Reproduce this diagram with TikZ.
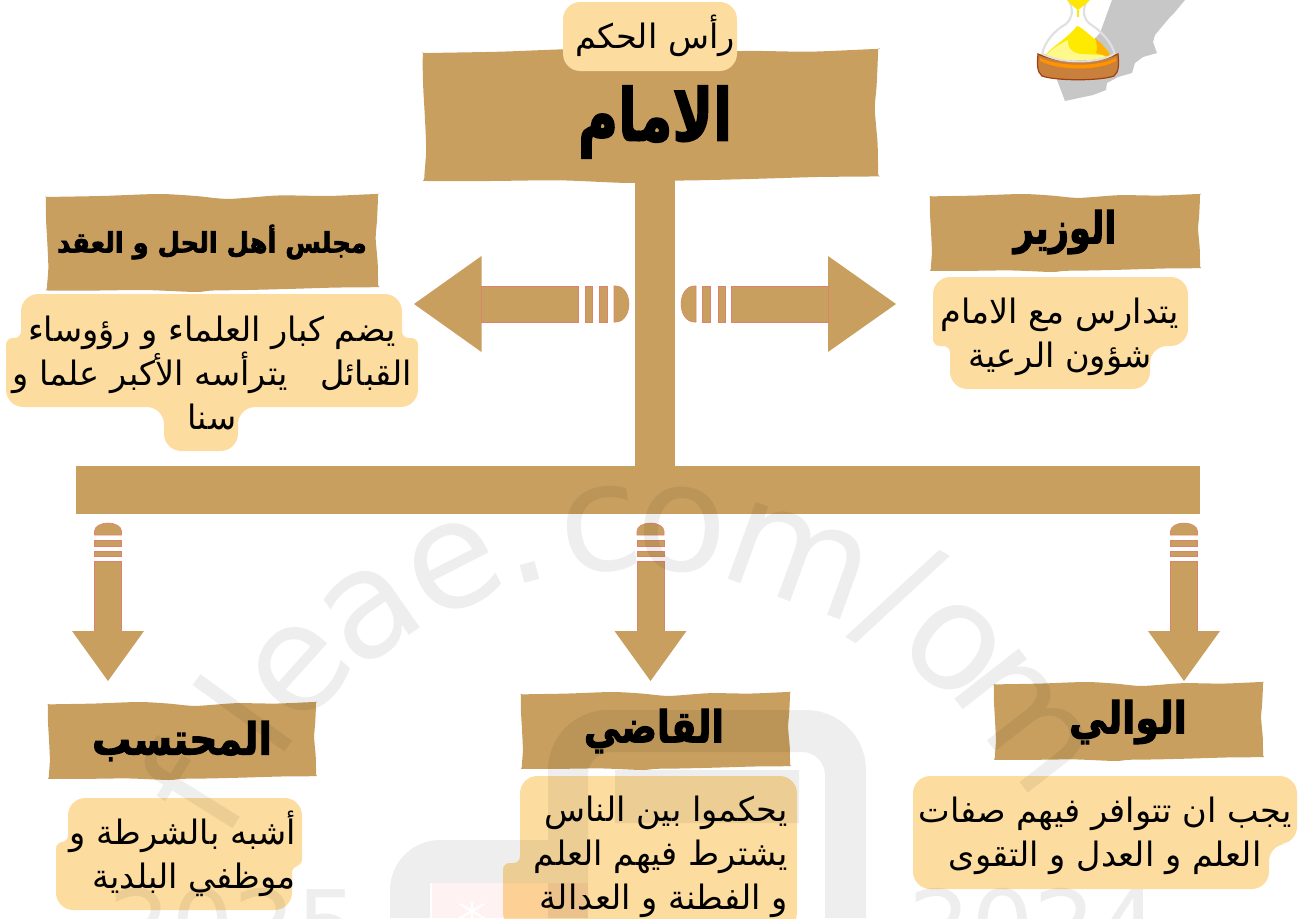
\documentclass[tikz,border=0pt]{standalone}
\usepackage{fontspec}
\TeXXeTstate=1
\newfontfamily\bodyfont[Script=Arabic]{DejaVu Sans}
\newfontfamily\headfont[Script=Arabic,FakeBold=2.5]{DejaVu Sans Bold}
\newfontfamily\wmfont{DejaVu Sans}
\definecolor{tan}{HTML}{C99F5F}
\definecolor{pill}{HTML}{FDDC9F}
\definecolor{edge}{HTML}{DE8270}
\definecolor{mapgray}{HTML}{C7C7C7}
\definecolor{basefill}{HTML}{C8803C}
\definecolor{basedark}{HTML}{A0400F}
\tikzset{
  wm/.style={inner sep=0pt,text=black,font=\wmfont\fontsize{112}{112}\selectfont},
  head/.style={inner sep=0pt,text=black},
  body/.style={inner sep=0pt,text=black,font=\bodyfont\fontsize{25.2}{33}\selectfont},
  pillfill/.style={fill=pill},
  shaft/.style={fill=tan,draw=edge,line width=.4pt},
  rb/.style={rounded corners=13pt},
  rs/.style={rounded corners=5pt},
}
\newcommand{\banner}[4]{%
 \begin{scope}[shift={(#1,#2)},x=#3*0.75pt,y=#4*-0.75pt]
 \fill[tan] plot[smooth cycle,tension=.45] coordinates {
 (0,.035)(.01,.03)(.17,.02)(.34,0)(.45,.02)(.55,.05)(.7,.015)(.85,.02)(.995,0)(1,.01)
 (.997,.27)(.993,.45)(.999,.7)(1,.93)(.997,.95)
 (.87,.955)(.72,.97)(.6,.98)(.5,.985)(.45,1)(.3,.98)(.15,.985)(.01,.985)(.003,.96)
 (.007,.75)(.004,.5)(0,.25)};
 \end{scope}}
\newcommand{\dnarrow}[1]{%
 \begin{scope}[shift={(#1,0)}]
 \fill[shaft] (-13.5,535) -- (-13.5,531) arc[start angle=180,end angle=360,x radius=13.5,y radius=8] -- (13.5,535) -- cycle;
 \fill[shaft] (-13.5,540) rectangle (13.5,546);
 \fill[shaft] (-13.5,551) rectangle (13.5,556);
 \fill[shaft] (-13.5,631) -- (-13.5,561) -- (13.5,561) -- (13.5,631) -- cycle;
 \fill[tan] (-36,631) -- (36,631) -- (0,681) -- cycle;
 \end{scope}}
\begin{document}
\begin{tikzpicture}[x=.75pt,y=-.75pt]
\useasboundingbox (0,0) rectangle (1307,918);
\clip (0,0) rectangle (1307,918);
% map and hourglass
\fill[mapgray] (1112,0) -- (1185,0) -- (1175,12) -- (1170,17) -- (1165,23) -- (1155,35) -- (1153,42) -- (1157,53) -- (1143,57) -- (1135,63) -- (1132,73) -- (1118,77) -- (1107,83) -- (1106,90) -- (1093,95) -- (1065,101) -- (1057,80) -- (1100,33) -- cycle;
\draw[line width=1.6pt,draw=black!12] (1069,0) .. controls (1074,12) and (1072,18) .. (1066,24) .. controls (1055,30) and (1044,42) .. (1042,55);
\draw[line width=1.6pt,draw=black!12] (1087,0) .. controls (1082,12) and (1083,18) .. (1090,24) .. controls (1100,30) and (1112,42) .. (1115,55);
\fill[yellow!90!orange] (1067,0) -- (1090,0) .. controls (1086,4) and (1082,7) .. (1078,10) .. controls (1074,7) and (1070,4) .. (1067,0) -- cycle;
\fill[yellow!90!orange] (1077,10) rectangle (1079,17);
\fill[yellow!92!orange] (1077,26) .. controls (1082,27) and (1090,36) .. (1100,43) .. controls (1106,48) and (1110,54) .. (1111,58) -- (1045,56) .. controls (1052,46) and (1068,38) .. (1077,26) -- cycle;
\fill[yellow!45] (1068,40) .. controls (1067,46) and (1070,52) .. (1080,54) -- (1103,55) -- (1108,60) -- (1060,61) -- (1046,56) .. controls (1050,50) and (1060,44) .. (1068,40) -- cycle;
\fill[orange!60!yellow] (1095,38) .. controls (1102,44) and (1108,50) .. (1112,58) -- (1096,53) .. controls (1098,48) and (1097,44) .. (1095,38) -- cycle;
\filldraw[fill=basefill,draw=basedark,line width=.9pt] (1038,54) .. controls (1060,64) and (1096,64) .. (1118,54) .. controls (1119,64) and (1119,72) .. (1114,76) .. controls (1100,81) and (1056,81) .. (1042,76) .. controls (1037,72) and (1037,64) .. (1038,54) -- cycle;
\fill[orange!85!yellow] (1040,58) .. controls (1060,67) and (1098,67) .. (1116,58) -- (1116,61) .. controls (1098,71) and (1060,71) .. (1040,61) -- cycle;
\draw[line width=1.4pt,draw=black!12] (1043,54) .. controls (1060,64) and (1098,64) .. (1114,54);
% rules
\fill[tan] (635,176) rectangle (675,466);
\fill[tan] (76,466) rectangle (1200,514);
% banners
\banner{423}{49}{455}{134}
\banner{46}{194}{332}{98}
\banner{930}{194}{270}{78}
\banner{48}{702}{268}{78}
\banner{521}{692}{269}{78}
\banner{994}{682}{269}{79}
% pills
\fill[pillfill,rb] (563,2) rectangle (737,71);
\fill[pillfill,rb] (21,294) -- (402,294) [rs] -- (402,338) -- (418,338) [rb] -- (418,407) -- (238,407) -- (238,451) -- (164,451) -- (164,407) -- (6,407) [rs] -- (6,338) -- (21,338) [rb] -- cycle;
\fill[pillfill,rb] (933,277) -- (1188,277) -- (1188,346) -- (1150,346) -- (1150,389) -- (950,389) [rs] -- (950,346) -- (933,346) [rb] -- cycle;
\fill[pillfill,rb] (68,798) -- (302,798) [rs] -- (302,866) -- (292,866) [rb] -- (292,910) -- (56,910) [rs] -- (56,842) -- (68,842) [rb] -- cycle;
\fill[pillfill,rb] (520,776) -- (797,776) -- (797,930) -- (503,930) [rs] -- (503,863) -- (520,863) [rb] -- cycle;
\fill[pillfill,rb] (913,776) -- (1297,776) -- (1297,844) -- (1269,844) -- (1269,889) -- (913,889) -- cycle;
% horizontal arrows
\fill[tan] (414,304) -- (481.5,256) -- (481.5,352) -- cycle;
\fill[shaft] (481,286) rectangle (578,322);
\fill[shaft] (585,286) rectangle (592,322);
\fill[shaft] (599,286) rectangle (607,322);
\fill[shaft] (614,286) -- (616,286) .. controls (624,286) and (629,295) .. (629,304) .. controls (629,313) and (624,322) .. (616,322) -- (614,322) -- cycle;
\fill[tan] (896,304) -- (828,256) -- (828,352) -- cycle;
\fill[shaft] (731,286) rectangle (828,322);
\fill[shaft] (718,286) rectangle (725,322);
\fill[shaft] (702,286) rectangle (710,322);
\fill[shaft] (696,286) -- (694,286) .. controls (686,286) and (681,295) .. (681,304) .. controls (681,313) and (686,322) .. (694,322) -- (696,322) -- cycle;
% vertical arrows
\dnarrow{108}
\dnarrow{650.5}
\dnarrow{1184}
% watermark
\begin{scope}[transparency group,opacity=.065]
\node[wm,rotate=58] (wf) at (190,790) {f};
\node[wm,rotate=54] (wl) at (243,713) {l};
\node[wm,rotate=48] (we1) at (300,670) {e};
\node[wm,rotate=35] (wa) at (371,613) {a};
\node[wm,rotate=27] (we2) at (454,567) {e};
\node[wm,rotate=15,anchor=center] (wd) at (530,572) {.};
\node[wm,rotate=8] (wc) at (600,530) {c};
\node[wm,rotate=-4] (wo1) at (682,530) {o};
\node[wm,rotate=-20] (wm1) at (798,560) {m};
\node[wm,rotate=-30] (ws) at (898,597) {/};
\node[wm,rotate=-40] (wo2) at (954,648) {o};
\node[wm,rotate=-52] (wm2) at (1024,720) {m};
\fill (548,918) -- (548,770) arc[start angle=180,end angle=270,radius=60] -- (806,710) arc[start angle=270,end angle=360,radius=60] -- (866,918) -- (825,918) -- (825,775) arc[start angle=0,end angle=-90,radius=23] -- (611,752) arc[start angle=-90,end angle=-180,radius=23] -- (588,918) -- cycle;
\fill (615,770) rectangle (799,823);
\fill (390,918) -- (390,890) arc[start angle=180,end angle=270,radius=50] -- (548,840) -- (548,883) -- (430,883) -- (430,918) -- cycle;
\node[wm,font=\wmfont\fontsize{74}{74}\selectfont,anchor=north west] (wyl) at (108,888) {2025};
\node[wm,font=\wmfont\fontsize{74}{74}\selectfont,anchor=north west] (wyr) at (908,888) {2024};
\end{scope}
\fill[red,opacity=.05] (432,883) rectangle (588,918);
\draw[white,line width=1.6pt] (472,918) -- (472,902) (460,904) -- (484,918) (484,904) -- (460,918);
% text
\node[body] (tophead) at (655,36) {\beginR رأس الحكم\endR};
\node[head,xscale=.76,font=\headfont\fontsize{54}{54}\selectfont] (imam) at (655,122) {\beginR الامام\endR};
\node[head,xscale=.92,font=\headfont\fontsize{21}{21}\selectfont] (majlis) at (212,242) {\beginR مجلس أهل الحل و العقد\endR};
\node[head,xscale=.8,font=\headfont\fontsize{33}{33}\selectfont] (wazir) at (1065,232) {\beginR الوزير\endR};
\node[head,xscale=.89,font=\headfont\fontsize{33}{33}\selectfont] (muhtasib) at (182,741) {\beginR المحتسب\endR};
\node[head,xscale=.84,font=\headfont\fontsize{33}{33}\selectfont] (qadi) at (654,731) {\beginR القاضي\endR};
\node[head,xscale=.87,font=\headfont\fontsize{33}{33}\selectfont] (wali) at (1128,722) {\beginR الوالي\endR};
\node[body,align=center] (tmajlis) at (212,373) {\beginR يضم كبار العلماء و رؤوساء\endR\\\beginR القبائل\ \ \ يترأسه الأكبر علما و\endR\\\beginR سنا\endR};
\node[body,align=center] (twazir) at (1060,337) {\beginR يتدارس مع الامام\endR\\\beginR شؤون الرعية\endR};
\node[body,align=right,anchor=east] (tmuh) at (296,854) {\beginR أشبه بالشرطة و\endR\\\beginR موظفي البلدية\endR};
\node[body,align=right,anchor=east] (tqadi) at (788,857) {\beginR يحكموا بين الناس\endR\\\beginR يشترط فيهم العلم\endR\\\beginR و الفطنة و العدالة\endR};
\node[body,align=center] (twali) at (1105,836) {\beginR يجب ان تتوافر فيهم صفات\endR\\\beginR العلم و العدل و التقوى\endR};
\end{tikzpicture}
\end{document}
